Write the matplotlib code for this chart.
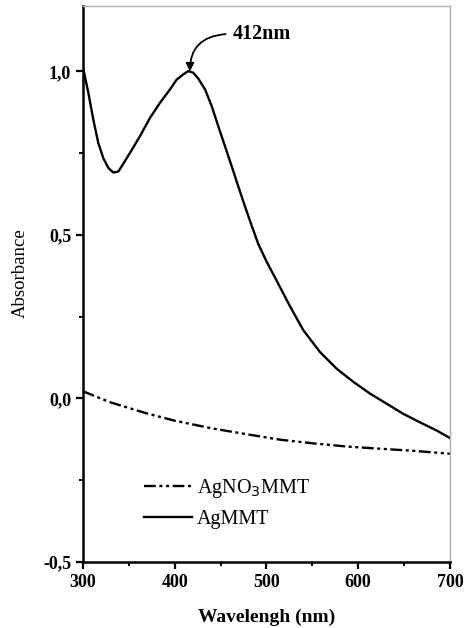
import matplotlib
matplotlib.use("Agg")
import matplotlib.pyplot as plt
from matplotlib.ticker import MultipleLocator, FixedFormatter, FixedLocator

# AgMMT absorbance (solid line)
wl_ag = [300, 305.8, 311.2, 316.7, 322.1, 327.6, 333.0, 338.5, 342.2, 351.2, 362.1,
         373.0, 383.9, 394.8, 402.1, 409.3, 414.8, 420.2, 425.7, 433.0, 440.3, 447.5,
         454.8, 462.1, 469.3, 476.6, 483.9, 491.1, 500.2, 511.1, 525.6, 540.1, 558.3,
         576.5, 594.6, 612.8, 631.0, 649.1, 667.3, 685.5, 700]
abs_ag = [1.012, 0.935, 0.853, 0.781, 0.735, 0.705, 0.691, 0.694, 0.710, 0.751, 0.802,
          0.858, 0.904, 0.945, 0.975, 0.991, 1.001, 0.996, 0.978, 0.945, 0.894, 0.832,
          0.771, 0.710, 0.648, 0.587, 0.528, 0.472, 0.418, 0.360, 0.282, 0.209, 0.142,
          0.091, 0.051, 0.015, -0.016, -0.047, -0.073, -0.098, -0.121]

# AgNO3MMT absorbance (dash-dot-dot line)
wl_no3 = [300, 330, 370, 400, 441.7, 480, 514.7, 550, 587.7, 620, 660, 700]
abs_no3 = [0.022, -0.012, -0.046, -0.068, -0.092, -0.110, -0.126, -0.137, -0.147, -0.153, -0.160, -0.169]

yticks = [-0.5, 0.0, 0.5, 1.0]
ytick_labels = ["-0,5", "0,0", "0,5", "1,0"]
xticks = [300, 400, 500, 600, 700]

plt.rcParams['font.family'] = ['Liberation Serif', 'DejaVu Serif']

fig = plt.figure(figsize=(4.7, 6.28), dpi=100)
ax = fig.add_axes([0.1766, 0.1051, 0.7808, 0.8853])

ax.plot(wl_no3, abs_no3, color='black', lw=1.7,
        linestyle=(0, (5, 1.5, 1.3, 1.5, 1.3, 1.5)), label='AgNO$_3$MMT')
ax.plot(wl_ag, abs_ag, color='black', lw=1.7, label='AgMMT')

ax.set_xlim(300, 700)
ax.set_ylim(-0.5, 1.2)
ax.xaxis.set_major_locator(FixedLocator(xticks))
ax.xaxis.set_minor_locator(MultipleLocator(50))
ax.yaxis.set_major_locator(FixedLocator(yticks))
ax.yaxis.set_major_formatter(FixedFormatter(ytick_labels))
ax.yaxis.set_minor_locator(MultipleLocator(0.25))
ax.tick_params(which='major', direction='out', length=5, width=1.6, labelsize=13)
ax.tick_params(which='minor', direction='out', length=3, width=1.4)
for lbl in ax.get_xticklabels() + ax.get_yticklabels():
    lbl.set_fontweight('bold')

for s in ['left', 'bottom']:
    ax.spines[s].set_linewidth(1.8)
for s in ['top', 'right']:
    ax.spines[s].set_color('#b0b0b0')
    ax.spines[s].set_linewidth(1.0)

ax.set_xlabel('Wavelengh (nm)', fontsize=14, fontweight='bold', labelpad=13)
ax.set_ylabel('Absorbance', fontsize=13.5)
ax.yaxis.set_label_coords(-0.148, 0.52)

ax.annotate('412nm', xy=(416.6, 1.0), xytext=(463, 1.115),
            fontsize=14.5, fontweight='bold', va='center', ha='left',
            arrowprops=dict(arrowstyle='-|>', color='black', lw=1.3,
                            connectionstyle='angle3,angleA=0,angleB=90',
                            relpos=(0, 0.5), mutation_scale=12,
                            shrinkA=3, shrinkB=0))

ax.legend(loc='center left', bbox_to_anchor=(0.144, 0.106), frameon=False,
          fontsize=14.5, handlelength=2.4, handletextpad=0.25, labelspacing=0.5,
          borderaxespad=0)

fig.savefig('out.png', dpi=100)
